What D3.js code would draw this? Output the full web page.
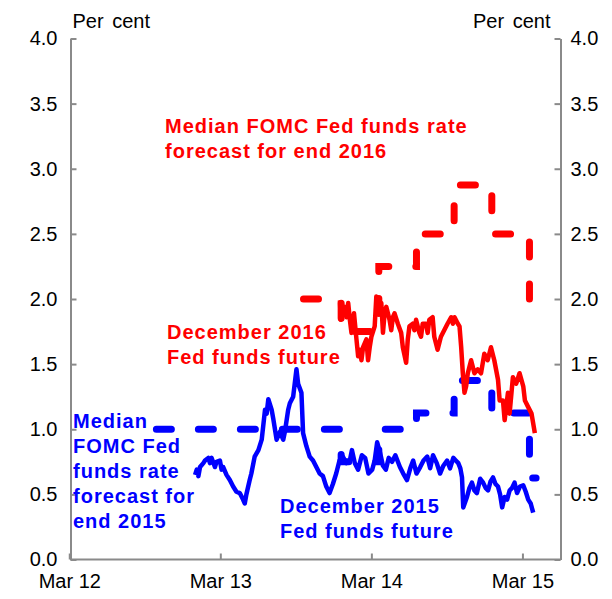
<!DOCTYPE html>
<html><head><meta charset="utf-8">
<script src="https://cdn.jsdelivr.net/npm/d3@7"></script>
<style>
body{margin:0;background:#fff;}
svg{display:block;font-family:"Liberation Sans",Arial,sans-serif;}
</style></head>
<body>
<script>
// ---- data ----
const yTicks = [0,0.5,1,1.5,2,2.5,3,3.5,4];
const xTickDates = ["2012-03-01","2013-03-01","2014-03-01","2015-03-01"];
const xTickLabels = ["Mar 12","Mar 13","Mar 14","Mar 15"];

// December 2015 Fed funds future (implied rate)
const dec15Dates = ["2012-12-30","2013-01-03","2013-01-07","2013-01-11","2013-01-19","2013-01-23","2013-01-31","2013-02-04","2013-02-08","2013-02-16","2013-02-20","2013-02-28","2013-03-04","2013-03-08","2013-03-16","2013-03-24","2013-04-01","2013-04-09","2013-04-17","2013-04-25","2013-04-29","2013-05-03","2013-05-11","2013-05-15","2013-05-23","2013-06-01","2013-06-09","2013-06-17","2013-06-21","2013-06-25","2013-07-03","2013-07-07","2013-07-15","2013-07-23","2013-07-31","2013-08-04","2013-08-12","2013-08-16","2013-08-24","2013-09-01","2013-09-05","2013-09-13","2013-09-17","2013-09-25","2013-10-03","2013-10-11","2013-10-19","2013-10-27","2013-11-04","2013-11-12","2013-11-20","2013-11-28","2013-12-06","2013-12-14","2013-12-22","2013-12-31","2014-01-08","2014-01-13","2014-01-20","2014-01-28","2014-02-06","2014-02-14","2014-02-22","2014-03-03","2014-03-09","2014-03-15","2014-03-22","2014-03-29","2014-04-05","2014-04-12","2014-04-20","2014-04-28","2014-05-09","2014-05-17","2014-05-26","2014-06-03","2014-06-10","2014-06-18","2014-06-27","2014-07-05","2014-07-14","2014-07-21","2014-07-28","2014-08-06","2014-08-14","2014-08-22","2014-08-31","2014-09-07","2014-09-15","2014-09-21","2014-09-27","2014-10-02","2014-10-06","2014-10-09","2014-10-18","2014-10-24","2014-10-30","2014-11-05","2014-11-11","2014-11-19","2014-11-26","2014-12-02","2014-12-08","2014-12-14","2014-12-20","2014-12-26","2015-01-01","2015-01-06","2015-01-11","2015-01-17","2015-01-23","2015-01-29","2015-02-04","2015-02-10","2015-02-16","2015-02-23","2015-03-03","2015-03-09","2015-03-15","2015-03-21","2015-03-27"];
const dec15Values = [0.65,0.69,0.64,0.71,0.74,0.76,0.78,0.74,0.78,0.71,0.75,0.76,0.69,0.71,0.65,0.61,0.56,0.52,0.51,0.46,0.43,0.50,0.61,0.66,0.79,0.84,0.92,1.15,1.12,1.23,1.15,1.08,0.92,0.98,0.92,0.98,1.15,1.20,1.25,1.46,1.35,1.28,0.97,0.87,0.79,0.76,0.71,0.66,0.64,0.56,0.51,0.58,0.66,0.76,0.79,0.74,0.76,0.84,0.74,0.69,0.80,0.78,0.66,0.69,0.76,0.90,0.82,0.72,0.69,0.78,0.75,0.80,0.71,0.66,0.61,0.70,0.76,0.66,0.71,0.76,0.79,0.70,0.80,0.74,0.66,0.72,0.76,0.70,0.78,0.76,0.74,0.70,0.63,0.40,0.48,0.55,0.59,0.53,0.51,0.62,0.59,0.55,0.53,0.60,0.63,0.58,0.56,0.50,0.40,0.48,0.46,0.53,0.55,0.59,0.51,0.56,0.57,0.52,0.46,0.43,0.36];

// December 2016 Fed funds future (implied rate)
const dec16Dates = ["2013-12-15","2013-12-17","2013-12-23","2013-12-27","2013-12-31","2014-01-04","2014-01-08","2014-01-12","2014-01-18","2014-01-24","2014-01-28","2014-02-01","2014-02-05","2014-02-09","2014-02-17","2014-02-21","2014-02-25","2014-03-01","2014-03-09","2014-03-13","2014-03-17","2014-03-21","2014-03-25","2014-03-29","2014-04-02","2014-04-06","2014-04-14","2014-04-18","2014-04-22","2014-04-26","2014-05-04","2014-05-12","2014-05-16","2014-05-24","2014-05-28","2014-06-01","2014-06-09","2014-06-13","2014-06-17","2014-06-25","2014-06-29","2014-07-03","2014-07-11","2014-07-15","2014-07-19","2014-07-27","2014-07-31","2014-08-08","2014-08-16","2014-08-24","2014-09-01","2014-09-10","2014-09-14","2014-09-18","2014-09-26","2014-09-30","2014-10-04","2014-10-08","2014-10-12","2014-10-16","2014-10-20","2014-10-28","2014-11-05","2014-11-13","2014-11-21","2014-11-29","2014-12-07","2014-12-15","2014-12-23","2015-01-01","2015-01-05","2015-01-13","2015-01-17","2015-01-25","2015-01-29","2015-02-06","2015-02-14","2015-02-22","2015-03-03","2015-03-07","2015-03-15","2015-03-23","2015-03-31"];
const dec16Values = [1.99,1.84,1.89,1.94,1.86,1.97,1.84,1.74,1.89,1.69,1.56,1.61,1.53,1.63,1.69,1.53,1.63,1.71,1.79,2.02,1.99,1.89,1.97,1.74,1.89,1.94,1.84,1.76,1.86,1.89,1.81,1.74,1.63,1.51,1.69,1.79,1.81,1.76,1.84,1.74,1.71,1.81,1.81,1.74,1.84,1.86,1.71,1.61,1.71,1.76,1.81,1.86,1.81,1.86,1.81,1.79,1.63,1.43,1.28,1.33,1.43,1.53,1.43,1.46,1.43,1.58,1.53,1.63,1.53,1.38,1.22,1.22,1.07,1.28,1.12,1.40,1.35,1.43,1.33,1.22,1.17,1.12,0.97];

// Median FOMC forecasts (step series, held until next meeting)
const fomc15Dates = ["2012-09-13","2012-12-12","2013-03-20","2013-06-19","2013-09-18","2013-12-18","2014-03-19","2014-06-18","2014-09-17","2014-12-17","2015-03-18","2015-04-03"];
const fomc15Values = [1.0,1.0,1.0,1.0,1.0,0.75,1.0,1.125,1.375,1.125,0.625,0.625];
const fomc16Dates = ["2013-09-18","2013-12-18","2014-03-19","2014-06-18","2014-09-17","2014-12-17","2015-03-18","2015-04-03"];
const fomc16Values = [2.0,1.75,2.25,2.5,2.875,2.5,1.875,1.875];

// ---- chart ----
const W=612,H=599;
const L=70.5,R=560.5,T=38.5,B=559.5;
const RED="#ff0000",BLUE="#0000ff",AX="#8a8a8a";
const parse=d3.utcParse("%Y-%m-%d");
const x=d3.scaleUtc().domain([parse("2012-03-04"),parse("2015-06-01")]).range([L,R]);
const y=d3.scaleLinear().domain([0,4]).range([B,T]);

const svg=d3.select("body").append("svg").attr("width",W).attr("height",H);

function styleAxis(g){
  g.selectAll("path.domain").attr("stroke",AX).attr("stroke-width",2);
  g.selectAll(".tick line").attr("stroke",AX).attr("stroke-width",2);
  g.selectAll("text").attr("fill","#000").style("font-size","20px").style("font-family","'Liberation Sans',Arial,sans-serif");
}
const gl=svg.append("g").attr("transform",`translate(${L},0)`)
  .call(d3.axisLeft(y).tickValues(yTicks).tickSize(-6).tickSizeOuter(0).tickPadding(13).tickFormat(d3.format(".1f")));
styleAxis(gl);
const gr=svg.append("g").attr("transform",`translate(${R},0)`)
  .call(d3.axisRight(y).tickValues(yTicks).tickSize(-6).tickSizeOuter(0).tickPadding(10).tickFormat(d3.format(".1f")));
styleAxis(gr);
const gb=svg.append("g").attr("transform",`translate(0,${B})`)
  .call(d3.axisBottom(x).tickValues(xTickDates.map(parse)).tickSize(-6).tickSizeOuter(0).tickPadding(14)
  .tickFormat((d,i)=>xTickLabels[i]));
styleAxis(gb);
gb.select("path.domain").attr("d",`M${L},0H${R}`);

svg.append("text").attr("x",L+2).attr("y",28).text("Per cent").style("font-size","20px").style("word-spacing","3px");
svg.append("text").attr("x",R-10).attr("y",28).attr("text-anchor","end").text("Per cent").style("font-size","20px").style("word-spacing","3px");

const line=d3.line().x(d=>x(d[0])).y(d=>y(d[1]));
const stepLine=d3.line().x(d=>x(d[0])).y(d=>y(d[1])).curve(d3.curveStepAfter);
const zip=(ds,vs)=>ds.map((d,i)=>[parse(d),vs[i]]);

// dashed FOMC lines
svg.append("path").datum(zip(fomc15Dates,fomc15Values)).attr("d",stepLine)
  .attr("fill","none").attr("stroke",BLUE).attr("stroke-width",7).attr("stroke-linecap","round")
  .attr("stroke-dasharray","15,27").attr("stroke-dashoffset",-6);
svg.append("path").datum(zip(fomc16Dates,fomc16Values)).attr("d",stepLine)
  .attr("fill","none").attr("stroke",RED).attr("stroke-width",7).attr("stroke-linecap","round")
  .attr("stroke-dasharray","15,27");

// futures
svg.append("path").datum(zip(dec15Dates,dec15Values)).attr("d",line)
  .attr("fill","none").attr("stroke",BLUE).attr("stroke-width",4.5).attr("stroke-linejoin","round");
svg.append("path").datum(zip(dec16Dates,dec16Values)).attr("d",line)
  .attr("fill","none").attr("stroke",RED).attr("stroke-width",4.5).attr("stroke-linejoin","round");

// annotations
function label(lines,x0,y0,color){
  const t=svg.append("text").attr("fill",color).style("font-weight","bold").style("font-size","20px").style("letter-spacing","1px");
  lines.forEach((s,i)=>t.append("tspan").attr("x",x0).attr("y",y0+i*25).text(s));
}
label(["Median FOMC Fed funds rate","forecast for  end 2016"],165,133,RED);
label(["December 2016","Fed funds future"],167,339,RED);
label(["Median","FOMC Fed","funds rate","forecast for","end 2015"],73,428,BLUE);
label(["December 2015","Fed funds future"],280,513,BLUE);
</script>
</body></html>
